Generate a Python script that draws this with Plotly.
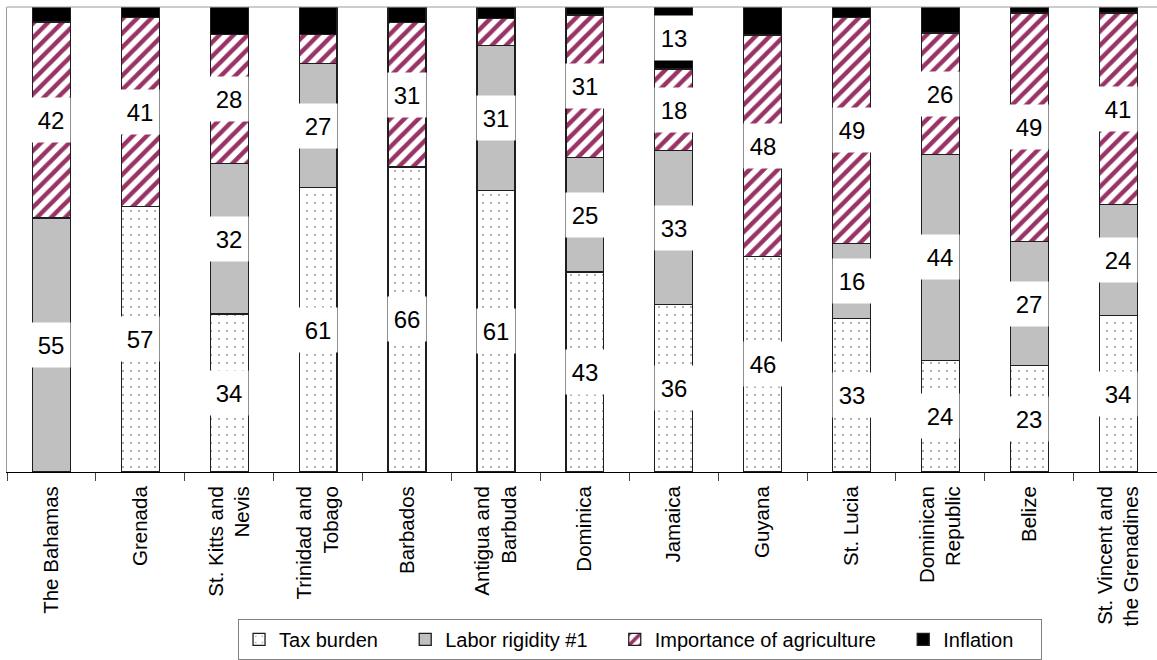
import plotly.graph_objects as go

# Country order along the horizontal axis
countries = [
    "The Bahamas", "Grenada", "St. Kitts and<br>Nevis", "Trinidad and<br>Tobago",
    "Barbados", "Antigua and<br>Barbuda", "Dominica", "Jamaica", "Guyana",
    "St. Lucia", "Dominican<br>Republic", "Belize", "St. Vincent and<br>the Grenadines",
]

# Share of each factor (percent of the total for each country)
tax_burden = [0, 57.1, 34.0, 61.2, 65.6, 60.6, 43.0, 36.0, 46.4, 33.0, 24.0, 22.9, 33.6]
labor_rigidity = [54.6, 0, 32.3, 26.6, 0, 31.1, 24.7, 33.1, 0, 16.2, 44.3, 26.6, 24.0]
agriculture = [42.2, 40.7, 27.8, 6.3, 31.0, 5.8, 30.6, 17.6, 47.6, 48.6, 26.1, 49.2, 41.1]
inflation = [3.2, 2.2, 5.9, 5.9, 3.4, 2.5, 1.7, 13.3, 6.0, 2.2, 5.6, 1.3, 1.3]

series_names = ["Tax burden", "Labor rigidity #1", "Importance of agriculture", "Inflation"]
series_values = [tax_burden, labor_rigidity, agriculture, inflation]

FONT = "Liberation Sans, Arial, sans-serif"
OUTLINE = dict(color="#1e1e1e", width=1.3)
LEGEND_PAD = "\u00a0" * 4  # extra room after each legend entry

markers = [
    dict(color="white", line=OUTLINE,
         pattern=dict(shape=".", fgcolor="#8a8a8a", bgcolor="white", fgopacity=1,
                      size=8, solidity=0.04)),
    dict(color="#c0c0c0", line=OUTLINE),
    dict(color="white", line=OUTLINE,
         pattern=dict(shape="/", fgcolor="#993366", bgcolor="white", fgopacity=1,
                      size=10, solidity=0.45)),
    dict(color="black", line=OUTLINE),
]

fig = go.Figure()
for name, vals, mk in zip(series_names, series_values, markers):
    fig.add_trace(go.Bar(x=countries, y=vals, name=name + LEGEND_PAD, marker=mk,
                         hovertemplate=name + ": %{y}<extra></extra>"))

# Value labels on white boxes, centred in each segment of 10 or more
base = [0.0] * len(countries)
for vals in series_values:
    for i, v in enumerate(vals):
        if v >= 10:
            fig.add_annotation(
                x=countries[i], y=base[i] + v / 2, text=f"{v:.0f}", showarrow=False,
                font=dict(family=FONT, size=24, color="black"),
                bgcolor="white", width=38, height=44, borderpad=0,
                xanchor="center", yanchor="middle",
            )
        base[i] += v

fig.update_layout(
    width=1157, height=660,
    margin=dict(l=7, r=0, t=7, b=186),
    barmode="stack", bargap=0.573,
    plot_bgcolor="white", paper_bgcolor="white",
    font=dict(family=FONT, size=20, color="black"),
    showlegend=True,
    legend=dict(
        orientation="h", traceorder="normal",
        x=0.2009, xanchor="left", y=-0.316, yanchor="top",
        bordercolor="#808080", borderwidth=1, bgcolor="white",
        font=dict(family=FONT, size=20, color="black"),
    ),
    xaxis=dict(
        range=[-0.5, 12.436], tickangle=-90, tickson="boundaries",
        ticks="outside", ticklen=8, tickcolor="#444", tickwidth=1,
        ticklabelstandoff=5,
        showline=True, linecolor="black", linewidth=1,
        showgrid=False, zeroline=False,
        tickfont=dict(family=FONT, size=20.5, color="black"),
    ),
    yaxis=dict(
        range=[0, 100], showticklabels=False, ticks="",
        showline=True, linecolor="#9a9a9a", linewidth=1,
        showgrid=False, zeroline=False,
    ),
    shapes=[dict(type="line", xref="paper", yref="paper", x0=0, x1=1, y0=1, y1=1,
                 line=dict(color="#9a9a9a", width=1))],
)

fig.write_html("out.html")
